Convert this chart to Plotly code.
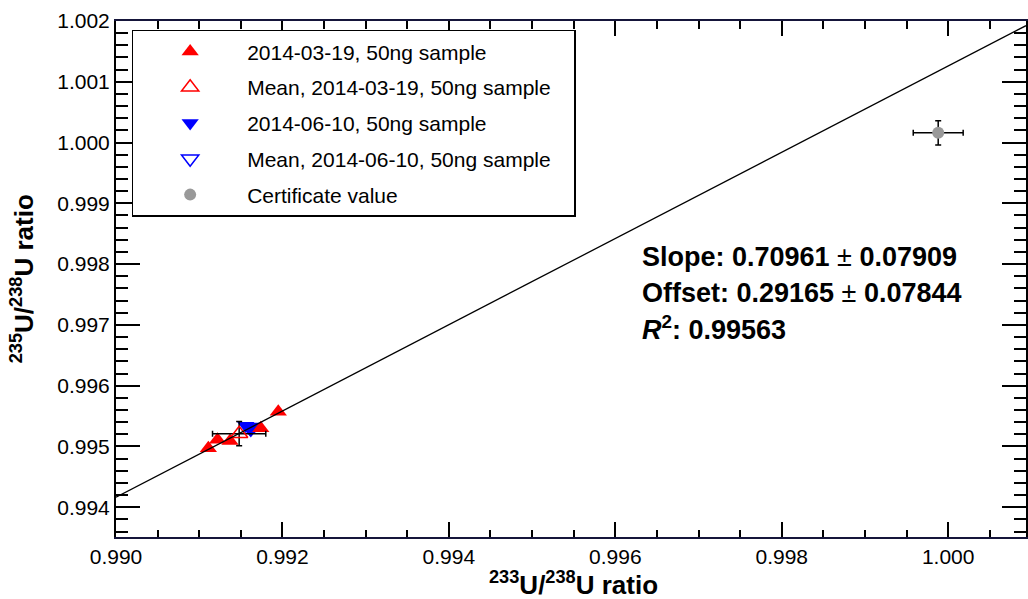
import plotly.graph_objects as go

# 233U/238U vs 235U/238U measurements, two 50 ng runs
run1_x = [0.99111, 0.99122, 0.99137, 0.99174, 0.99195]
run1_y = [0.99497, 0.99511, 0.99509, 0.99530, 0.99557]
run1_mean_x = [0.99148]
run1_mean_y = [0.99521]
run1_mean_ex = [0.00032]
run1_mean_ey = [0.00020]

run2_x = [0.99156, 0.99162, 0.99166]
run2_y = [0.99534, 0.99527, 0.99533]
run2_mean_x = [0.99161]
run2_mean_y = [0.99531]

cert_x = [0.99988]
cert_y = [1.00016]
cert_ex = [0.00030]
cert_ey = [0.00020]

# linear fit results
slope, slope_err = 0.70961, 0.07909
offset, offset_err = 0.29165, 0.07844
r_squared = 0.99563

x_range = [0.990, 1.000935]
y_range = [0.99351, 1.002]
x_ticks = [0.990, 0.992, 0.994, 0.996, 0.998, 1.000]
y_ticks = [0.994, 0.995, 0.996, 0.997, 0.998, 0.999, 1.000, 1.001, 1.002]

labels = [
    "2014-03-19, 50ng sample",
    "Mean, 2014-03-19, 50ng sample",
    "2014-06-10, 50ng sample",
    "Mean, 2014-06-10, 50ng sample",
    "Certificate value",
]

FONT = "Liberation Sans, Arial, Helvetica, sans-serif"
PAD = "\u00a0\u00a0\u00a0"  # right padding inside the legend box

fig = go.Figure()

fig.add_trace(go.Scatter(
    x=run2_x, y=run2_y, mode="markers", name=labels[2], legendrank=3,
    legendgroup="c",
    marker=dict(symbol="triangle-down", size=15, color="#0000ff"),
))
fig.add_trace(go.Scatter(
    x=run2_mean_x, y=run2_mean_y, mode="markers", name=labels[3] + PAD, legendrank=4,
    legendgroup="d",
    marker=dict(symbol="triangle-down-open", size=15, color="#0000ff",
                line=dict(width=1.5, color="#0000ff")),
))
fig.add_trace(go.Scatter(
    x=run1_x, y=run1_y, mode="markers", name=labels[0], legendrank=1,
    legendgroup="a",
    marker=dict(symbol="triangle-up", size=15, color="#ff0000"),
))
fig.add_trace(go.Scatter(
    x=run1_mean_x, y=run1_mean_y, mode="markers", name=labels[1] + PAD, legendrank=2,
    legendgroup="b",
    marker=dict(symbol="triangle-up-open", size=15, color="#ff0000",
                line=dict(width=1.5, color="#ff0000")),
    error_x=dict(type="data", array=run1_mean_ex, color="black", thickness=1.5, width=3),
    error_y=dict(type="data", array=run1_mean_ey, color="black", thickness=1.5, width=3),
))
fig.add_trace(go.Scatter(
    x=cert_x, y=cert_y, mode="markers", name=labels[4], legendrank=5,
    legendgroup="e",
    marker=dict(symbol="circle", size=12, color="#999999"),
    error_x=dict(type="data", array=cert_ex, color="black", thickness=1.5, width=3),
    error_y=dict(type="data", array=cert_ey, color="black", thickness=1.5, width=3),
))

# fitted line across the full x range
fit_x = x_range
fit_y = [slope * v + offset for v in fit_x]
fig.add_trace(go.Scatter(
    x=fit_x, y=fit_y, mode="lines", showlegend=False,
    line=dict(color="black", width=1.3),
))

fig.update_xaxes(
    range=x_range, tickvals=x_ticks, ticktext=[f"{v:.3f}" for v in x_ticks],
    ticks="inside", ticklen=15, tickwidth=1.5, tickcolor="black",
    showline=True, linecolor="#15153a", linewidth=2, mirror="ticks",
    showgrid=False, zeroline=False,
    tickfont=dict(size=21, family=FONT, color="black"),
    minor=dict(dtick=0.0005, tick0=0.990, ticks="inside", ticklen=7.5,
               tickwidth=1.5, tickcolor="black", showgrid=False),
)
fig.update_yaxes(
    range=y_range, tickvals=y_ticks, ticktext=[f"{v:.3f}" for v in y_ticks],
    ticks="inside", ticklen=24, tickwidth=1.5, tickcolor="black",
    showline=True, linecolor="black", linewidth=2, mirror="ticks",
    showgrid=False, zeroline=False,
    tickfont=dict(size=21, family=FONT, color="black"),
    minor=dict(dtick=0.0002, tick0=0.994, ticks="inside", ticklen=12,
               tickwidth=1.5, tickcolor="black", showgrid=False),
)

annotations = [
    dict(text="<b><sup>233</sup>U/<sup>238</sup>U ratio</b>", xref="paper", yref="paper",
         x=0.503, y=-0.09, xanchor="center", yanchor="middle", showarrow=False,
         font=dict(size=26, family=FONT, color="black")),
    dict(text="<b><sup>235</sup>U/<sup>238</sup>U ratio</b>", xref="paper", yref="paper",
         x=-0.103, y=0.5, xanchor="center", yanchor="middle", textangle=-90, showarrow=False,
         font=dict(size=26, family=FONT, color="black")),
    dict(text=f"<b>Slope: {slope:.5f}</b> \u00b1 <b>{slope_err:.5f}</b>", xref="paper", yref="paper",
         x=0.5757, y=0.5417, xanchor="left", yanchor="middle", showarrow=False,
         font=dict(size=27, family=FONT, color="black")),
    dict(text=f"<b>Offset: {offset:.5f}</b> \u00b1 <b>{offset_err:.5f}</b>", xref="paper", yref="paper",
         x=0.5757, y=0.4735, xanchor="left", yanchor="middle", showarrow=False,
         font=dict(size=27, family=FONT, color="black")),
    dict(text=f"<b><i>R</i><sup>2</sup>: {r_squared:.5f}</b>", xref="paper", yref="paper",
         x=0.5757, y=0.4055, xanchor="left", yanchor="middle", showarrow=False,
         font=dict(size=27, family=FONT, color="black")),
]

fig.update_layout(
    width=1028, height=599,
    margin=dict(l=116, r=0, t=21, b=62),
    paper_bgcolor="white", plot_bgcolor="white",
    font=dict(family=FONT, color="black"),
    annotations=annotations,
    legend=dict(
        x=0.0172, y=0.983, xanchor="left", yanchor="top",
        bordercolor="black", borderwidth=1.5, bgcolor="white",
        font=dict(size=21, family=FONT, color="black"),
        tracegroupgap=5.5, itemwidth=104, traceorder="grouped",
    ),
)

fig.write_html("out.html")
